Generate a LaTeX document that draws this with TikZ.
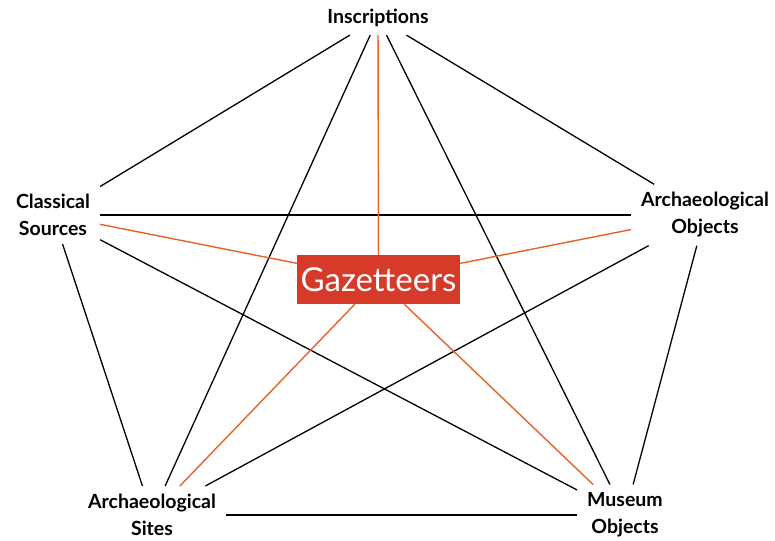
\documentclass[tikz,border=0pt]{standalone}
\usepackage{fontspec}
\setmainfont{Lato}
\definecolor{gazred}{RGB}{213,59,40}
\definecolor{linkorange}{RGB}{232,98,36}

\begin{document}
\begin{tikzpicture} [x=1pt, y=-1pt,
		source/.style={align=center, inner xsep=10pt, inner ysep=8pt,
			font=\fontsize{19.5}{27}\selectfont\bfseries},
		hub/.style={fill=gazred, text=white, minimum width=163pt,
			minimum height=49pt, inner sep=0pt, font=\fontsize{33}{40}\selectfont},
		link/.style={line width=1.3pt, black},
		hublink/.style={line width=1.4pt, linkorange}]

		\useasboundingbox (0,0) rectangle (775,540);

		% the five kinds of source
		\node[source] (insc) at (378,18) {Inscriptions};

		\node[source] (clas) at (53,215) {Classical\\ Sources};

		\node[source] (aobj) at (705,215) {Archaeological\\ Objects};

		\node[source] (asit) at (152,515) {Archaeological\\ Sites};

		\node[source] (muse) at (625,515) {Museum\\ Objects};

		% the hub
		\node[hub] (gaz) at (378.5,279.5) {Gazetteers};

		% every source to every other
		\draw [link] (insc) -- (clas);
		\draw [link] (insc) -- (aobj);
		\draw [link] (insc) -- (asit);
		\draw [link] (insc) -- (muse);
		\draw [link] (clas) -- (aobj);
		\draw [link] (clas) -- (asit);
		\draw [link] (clas) -- (muse);
		\draw [link] (aobj) -- (asit);
		\draw [link] (aobj) -- (muse);
		\draw [link] (asit) -- (muse);

		% every source to the hub
		\draw [hublink] (gaz) -- (insc);
		\draw [hublink] (gaz) -- (clas);
		\draw [hublink] (gaz) -- (aobj);
		\draw [hublink] (gaz) -- (asit);
		\draw [hublink] (gaz) -- (muse);
	\end{tikzpicture}
\end{document}
